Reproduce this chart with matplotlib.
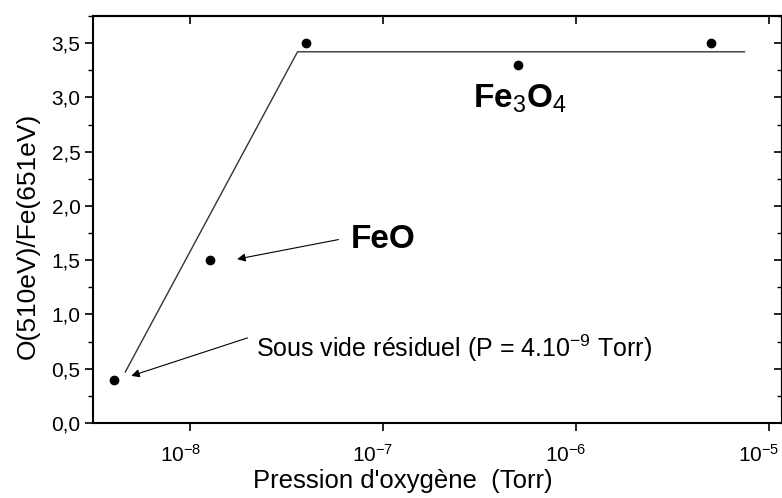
import numpy as np
import matplotlib
matplotlib.use("Agg")
import matplotlib.pyplot as plt
from matplotlib.ticker import FixedLocator, MultipleLocator
from matplotlib.transforms import ScaledTranslation

plt.rcParams['font.family'] = ['Liberation Sans', 'DejaVu Sans']
plt.rcParams['mathtext.fontset'] = 'custom'
plt.rcParams['mathtext.rm'] = 'Liberation Sans'
plt.rcParams['mathtext.it'] = 'Liberation Sans'
plt.rcParams['mathtext.bf'] = 'Liberation Sans:bold'

# measured points
pressure = [4.0e-9, 1.27e-8, 4.0e-8, 5.0e-7, 5.0e-6]
ratio = [0.40, 1.50, 3.50, 3.30, 3.50]

# hand-drawn guide line
guide_x = [4.6e-9, 3.6e-8, 7.5e-6]
guide_y = [0.47, 3.42, 3.42]

xticks = [1e-8, 1e-7, 1e-6, 1e-5]
xticklabels = ['10$^{-8}$', '10$^{-7}$', '10$^{-6}$', '10$^{-5}$']
yticks = [0.0, 0.5, 1.0, 1.5, 2.0, 2.5, 3.0, 3.5]
yticklabels = [('%.1f' % v).replace('.', ',') for v in yticks]

fig = plt.figure(figsize=(7.82, 4.98), dpi=100)
ax = fig.add_axes([0.119, 0.1506, 0.8815, 0.8173])

ax.plot(guide_x, guide_y, color='#333333', lw=1.0)
ax.plot(pressure, ratio, 'o', color='black', ms=6)

ax.set_xscale('log')
ax.set_xlim(3.13e-9, 1.18e-5)
ax.set_ylim(0, 3.75)

ax.xaxis.set_major_locator(FixedLocator(xticks))
ax.xaxis.set_minor_locator(FixedLocator([]))
ax.set_xticklabels(xticklabels)
ax.set_yticks(yticks)
ax.set_yticklabels(yticklabels)
ax.yaxis.set_minor_locator(MultipleLocator(0.25))

ax.tick_params(axis='both', which='major', direction='out', length=6, width=1.2,
               labelsize=15, colors='black')
ax.tick_params(axis='y', which='minor', direction='out', length=3.5, width=1.0)
ax.tick_params(axis='y', which='major', pad=3)
ax.tick_params(axis='x', which='major', pad=9)

# x tick labels sit a little left of their ticks in the original
shift = ScaledTranslation(-10 / 100, 0, fig.dpi_scale_trans)
for lab in ax.get_xticklabels():
    lab.set_transform(lab.get_transform() + shift)

# mirrored axes with inward ticks
top = ax.secondary_xaxis('top')
top.set_xticks(xticks)
top.xaxis.set_minor_locator(FixedLocator([]))
top.tick_params(direction='in', length=6, width=1.2, labelbottom=False, labeltop=False)
right = ax.secondary_yaxis('right')
right.set_yticks(yticks)
right.yaxis.set_minor_locator(MultipleLocator(0.25))
right.tick_params(which='major', direction='in', length=6, width=1.2, labelright=False)
right.tick_params(which='minor', direction='in', length=3.5, width=1.0)

for s in ax.spines.values():
    s.set_linewidth(1.5)
top.spines['top'].set_linewidth(1.5)
right.spines['right'].set_linewidth(1.5)

ax.set_xlabel("Pression d'oxygène  (Torr)", fontsize=18.5)
ax.xaxis.set_label_coords(0.45, -0.112)
ax.set_ylabel("O(510eV)/Fe(651eV)", fontsize=19)
ax.yaxis.set_label_coords(-0.077, 0.46)

arrow = dict(arrowstyle='-|>', color='black', lw=0.8, mutation_scale=12, shrinkA=0, shrinkB=0)

ax.text(6.8e-8, 1.69, 'FeO', fontsize=24, fontweight='bold', va='center', ha='left')
ax.annotate('', xy=(1.75e-8, 1.51), xytext=(5.87e-8, 1.69), arrowprops=arrow)

ax.text(2.2e-8, 0.69, 'Sous vide résiduel (P = 4.10$^{-9}$ Torr)', fontsize=18,
        va='center', ha='left')
ax.annotate('', xy=(4.94e-9, 0.434), xytext=(1.98e-8, 0.784), arrowprops=arrow)

ax.text(2.94e-7, 2.91, r'Fe$_3$O$_4$', fontsize=24, fontweight='bold',
        va='baseline', ha='left')

fig.savefig('out.png', dpi=100)
